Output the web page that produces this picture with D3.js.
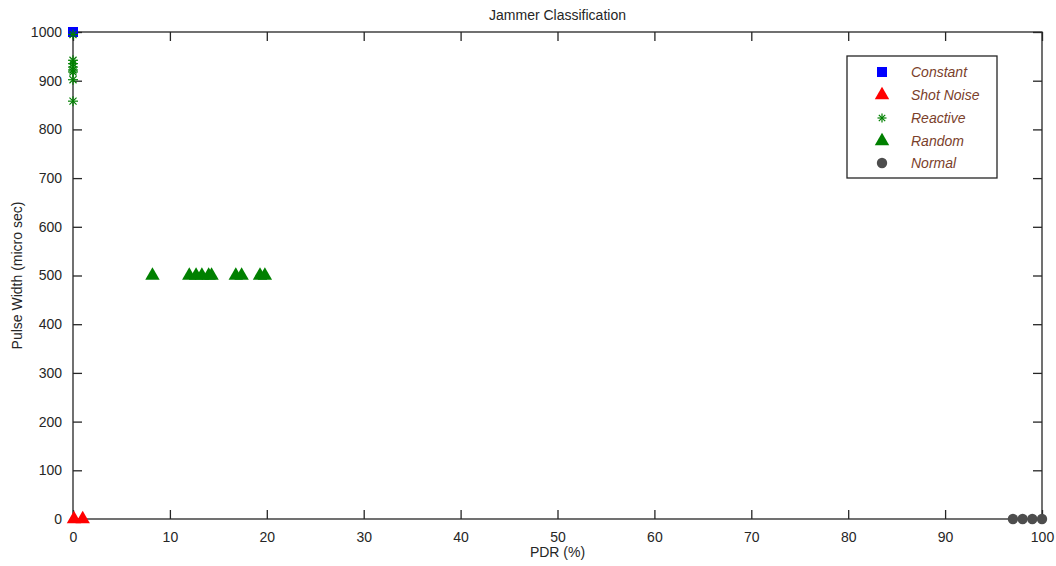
<!DOCTYPE html>
<html>
<head>
<meta charset="utf-8">
<script src="https://cdn.jsdelivr.net/npm/d3@7"></script>
<style>
  html, body { margin: 0; padding: 0; background: #fff; }
  svg { display: block; font-family: "Liberation Sans", Arial, sans-serif; }
</style>
</head>
<body>
<svg id="chart" width="1056" height="566"></svg>
<script>
// PDR (%) vs pulse width (micro sec) per jammer class
const constantPDR = [0];
const constantPW = [1000];

const shotPDR = [0.1, 1.0];
const shotPW = [0, 0];

const reactivePDR = [0, 0, 0, 0, 0, 0, 0, 0];
const reactivePW = [995, 942, 935, 928, 922, 918, 902, 858];

const randomPDR = [8.2, 12.0, 12.7, 13.3, 14.0, 14.3, 16.8, 17.4, 19.3, 19.8];
const randomPW = [500, 500, 500, 500, 500, 500, 500, 500, 500, 500];

const normalPDR = [97, 98, 99, 100];
const normalPW = [0, 0, 0, 0];

const xTicks = [0, 10, 20, 30, 40, 50, 60, 70, 80, 90, 100];
const yTicks = [0, 100, 200, 300, 400, 500, 600, 700, 800, 900, 1000];

const legendLabels = ["Constant", "Shot Noise", "Reactive", "Random", "Normal"];

(function draw() {
  const svg = d3.select("#chart");
  const pLeft = 73, pRight = 1042, pTop = 32, pBottom = 519;

  const x = d3.scaleLinear().domain([0, 100]).range([pLeft, pRight]);
  const y = d3.scaleLinear().domain([0, 1000]).range([pBottom, pTop]);

  const axisColor = "#262626";
  const tickLen = 9;

  // frame
  svg.append("rect")
    .attr("x", pLeft).attr("y", pTop)
    .attr("width", pRight - pLeft).attr("height", pBottom - pTop)
    .attr("fill", "none").attr("stroke", axisColor).attr("stroke-width", 1.3);

  // axes with inward ticks, mirrored on top and right
  const xAxis = svg.append("g").attr("transform", `translate(0,${pBottom})`)
    .call(d3.axisBottom(x).tickValues(xTicks).tickSize(-tickLen).tickPadding(tickLen + 4).tickFormat(d3.format("d")));
  const xAxisTop = svg.append("g").attr("transform", `translate(0,${pTop})`)
    .call(d3.axisTop(x).tickValues(xTicks).tickSize(-tickLen).tickFormat(""));
  const yAxis = svg.append("g").attr("transform", `translate(${pLeft},0)`)
    .call(d3.axisLeft(y).tickValues(yTicks).tickSize(-tickLen).tickPadding(tickLen + 2).tickFormat(d3.format("d")));
  const yAxisRight = svg.append("g").attr("transform", `translate(${pRight},0)`)
    .call(d3.axisRight(y).tickValues(yTicks).tickSize(-tickLen).tickFormat(""));

  [xAxis, xAxisTop, yAxis, yAxisRight].forEach(g => {
    g.select(".domain").remove();
    g.selectAll(".tick line").attr("stroke", axisColor).attr("stroke-width", 1.3);
    g.selectAll(".tick text").attr("fill", axisColor)
      .style("font-size", "14px").style("font-family", "\"Liberation Sans\", Arial, sans-serif");
  });

  // titles
  svg.append("text").attr("x", (pLeft + pRight) / 2).attr("y", 20)
    .attr("text-anchor", "middle").attr("fill", axisColor).style("font-size", "14px")
    .text("Jammer Classification");
  svg.append("text").attr("x", (pLeft + pRight) / 2).attr("y", 557)
    .attr("text-anchor", "middle").attr("fill", axisColor).style("font-size", "14px")
    .text("PDR (%)");
  svg.append("text")
    .attr("transform", `translate(22,${(pTop + pBottom) / 2}) rotate(-90)`)
    .attr("text-anchor", "middle").attr("fill", axisColor).style("font-size", "14px")
    .text("Pulse Width (micro sec)");

  // marker generators
  const square = d3.symbol().type(d3.symbolSquare).size(100);
  const triangle = d3.symbol().type(d3.symbolTriangle).size(90);
  const circle = d3.symbol().type(d3.symbolCircle).size(85);
  function asterisk(g, cx, cy, r, color) {
    const a = g.append("g").attr("transform", `translate(${cx},${cy})`)
      .attr("stroke", color).attr("stroke-width", 1.2);
    [0, 45, 90, 135].forEach(ang => {
      const rad = ang * Math.PI / 180;
      a.append("line")
        .attr("x1", -r * Math.cos(rad)).attr("y1", -r * Math.sin(rad))
        .attr("x2", r * Math.cos(rad)).attr("y2", r * Math.sin(rad));
    });
  }

  const marks = svg.append("g");
  const zip = (xs, ys) => xs.map((v, i) => [v, ys[i]]);

  marks.selectAll(".constant").data(zip(constantPDR, constantPW)).join("path")
    .attr("d", square).attr("fill", "#0000ff")
    .attr("transform", d => `translate(${x(d[0])},${y(d[1])})`);

  marks.selectAll(".shot").data(zip(shotPDR, shotPW)).join("path")
    .attr("d", triangle).attr("fill", "#ff0000")
    .attr("transform", d => `translate(${x(d[0])},${y(d[1])})`);

  marks.selectAll(".random").data(zip(randomPDR, randomPW)).join("path")
    .attr("d", triangle).attr("fill", "#008000")
    .attr("transform", d => `translate(${x(d[0])},${y(d[1])})`);

  zip(reactivePDR, reactivePW).forEach(d => asterisk(marks, x(d[0]), y(d[1]), 5, "#008000"));

  marks.selectAll(".normal").data(zip(normalPDR, normalPW)).join("path")
    .attr("d", circle).attr("fill", "#4d4d4d")
    .attr("transform", d => `translate(${x(d[0])},${y(d[1])})`);

  // legend
  const lg = svg.append("g");
  lg.append("rect").attr("x", 847).attr("y", 56).attr("width", 150).attr("height", 122)
    .attr("fill", "#fff").attr("stroke", axisColor).attr("stroke-width", 1.3);
  const rowY = [72, 95, 118, 141, 163];
  const mx = 882;
  lg.append("path").attr("d", square).attr("fill", "#0000ff").attr("transform", `translate(${mx},${rowY[0]})`);
  lg.append("path").attr("d", triangle).attr("fill", "#ff0000").attr("transform", `translate(${mx},${rowY[1]})`);
  asterisk(lg, mx, rowY[2], 4.5, "#008000");
  lg.append("path").attr("d", triangle).attr("fill", "#008000").attr("transform", `translate(${mx},${rowY[3]})`);
  lg.append("path").attr("d", circle).attr("fill", "#4d4d4d").attr("transform", `translate(${mx},${rowY[4]})`);
  lg.selectAll("text.lbl").data(legendLabels).join("text")
    .attr("x", 911).attr("y", (d, i) => rowY[i] + 5)
    .attr("fill", "#7b3f2c").style("font-size", "14px").style("font-style", "italic")
    .text(d => d);
})();
</script>
</body>
</html>
